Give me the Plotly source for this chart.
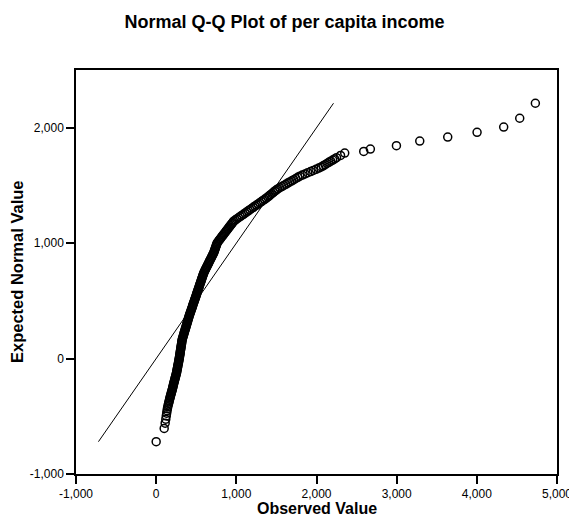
import plotly.graph_objects as go

# Sorted per capita income (observed) and matching expected normal values
observed = [
    # lower tail
    0, 100, 112, 120, 126, 131, 136, 140, 145, 150, 155, 160, 164, 168,
    172, 176, 180, 184, 188, 192, 196, 200, 204, 207, 211, 214, 218, 221,
    # body
    225, 229, 233, 236, 240, 244, 248, 252,
    255, 258, 260, 263, 266, 269, 271, 274, 277, 280, 282, 285, 288,
    290, 292, 295, 297, 299, 301, 303, 306, 308, 310, 312, 315, 317, 319, 321, 323,
    327, 331, 335, 340, 344, 348, 352, 357, 361, 365, 370, 374, 378, 382, 387, 391, 395, 399, 404, 408,
    412, 417, 422, 427, 432, 437, 442, 447, 452, 456, 461, 466, 471, 476, 481, 486, 491, 496, 501, 505,
    510, 515, 520, 525, 530, 535, 539, 544, 549, 554, 559, 564, 568, 573, 578, 583, 588, 593,
    599, 606, 613, 620, 627, 635, 642, 649, 656, 663, 670, 677, 685, 692, 699, 706, 713,
    720, 725, 730, 735, 740, 745, 750, 755, 760,
    769, 780, 791, 802, 813, 824, 835, 846, 857, 868, 879, 890, 901, 912, 923, 934, 945, 956, 967,
    986, 1006, 1027, 1047, 1068, 1088, 1109, 1129, 1149, 1170,
    1190, 1211, 1231, 1251, 1272, 1292, 1313, 1333, 1353, 1374,
    1393, 1410, 1427, 1445, 1462, 1479, 1497,
    1517, 1542, 1567, 1592, 1617, 1642, 1667, 1692, 1717, 1742, 1767, 1792,
    1823, 1857, 1891, 1926, 1960, 1994, 2028,
    2059, 2083, 2107, 2130, 2154, 2178, 2202, 2226, 2250,
    2300, 2352,
    # upper tail
    2589, 2672, 2997, 3288, 3637, 4003, 4335, 4535, 4730,
]

expected = [
    # lower tail
    -720, -605, -560, -525, -497, -473, -452, -434, -418, -403, -389, -376, -364, -352,
    -341, -330, -320, -310, -300, -290, -280, -270, -260, -250, -240, -230, -220, -210,
    # body
    -200, -190, -180, -170, -160, -150, -140, -130,
    -120, -110, -100, -90, -80, -70, -60, -50, -40, -30, -20, -10, 0,
    10, 20, 30, 40, 50, 60, 70, 80, 90, 100, 110, 120, 130, 140, 150, 160,
    170, 180, 190, 200, 210, 220, 230, 240, 250, 260, 270, 280, 290, 300, 310, 320, 330, 340, 350, 360,
    370, 380, 390, 400, 410, 420, 430, 440, 450, 460, 470, 480, 490, 500, 510, 520, 530, 540, 550, 560,
    570, 580, 590, 600, 610, 620, 630, 640, 650, 660, 670, 680, 690, 700, 710, 720, 730, 740,
    750, 760, 770, 780, 790, 800, 810, 820, 830, 840, 850, 860, 870, 880, 890, 900, 910,
    920, 930, 940, 950, 960, 970, 980, 990, 1000,
    1010, 1020, 1030, 1040, 1050, 1060, 1070, 1080, 1090, 1100, 1110, 1120, 1130, 1140, 1150, 1160, 1170, 1180, 1190,
    1200, 1210, 1220, 1230, 1240, 1250, 1260, 1270, 1280, 1290,
    1300, 1310, 1320, 1330, 1340, 1350, 1360, 1370, 1380, 1390,
    1400, 1410, 1420, 1430, 1440, 1450, 1460,
    1470, 1480, 1490, 1500, 1510, 1520, 1530, 1540, 1550, 1560, 1570, 1580,
    1590, 1600, 1610, 1620, 1630, 1640, 1650,
    1660, 1670, 1680, 1690, 1700, 1710, 1720, 1730, 1740,
    1760, 1780,
    # upper tail
    1795, 1815, 1844, 1884, 1919, 1960, 2006, 2082, 2212,
]

x_ticks = [-1000, 0, 1000, 2000, 3000, 4000, 5000]
x_tick_labels = ["-1,000", "0", "1,000", "2,000", "3,000", "4,000", "5,000"]
y_ticks = [-1000, 0, 1000, 2000]
y_tick_labels = ["-1,000", "0", "1,000", "2,000"]

FONT = "Arial, Liberation Sans, sans-serif"

# Reference line y = x across the range of expected values
lo, hi = min(expected), max(expected)

fig = go.Figure()
fig.add_trace(go.Scatter(
    x=[lo, hi], y=[lo, hi], mode="lines",
    line=dict(color="black", width=1), hoverinfo="skip", showlegend=False,
))
fig.add_trace(go.Scatter(
    x=observed, y=expected, mode="markers",
    marker=dict(symbol="circle-open", size=8, color="black", line=dict(width=1.5, color="black")),
    showlegend=False,
))

axis_common = dict(
    showline=True, linecolor="black", linewidth=1.5, mirror=True,
    showgrid=False, zeroline=False,
    ticks="outside", ticklen=8, tickwidth=1.5, tickcolor="black",
    tickfont=dict(family=FONT, size=12, color="black"),
    ticklabeloverflow="allow",
    automargin=False,
)

fig.update_layout(
    width=569, height=520,
    margin=dict(l=76, r=12, t=70, b=46),
    paper_bgcolor="white", plot_bgcolor="white",
    title=dict(
        text="<b>Normal Q-Q Plot of per capita income</b>",
        font=dict(family=FONT, size=18, color="black"),
        x=0.5, xref="container", xanchor="center",
        y=1 - 21.5 / 520, yref="container", yanchor="middle",
    ),
    xaxis=dict(range=[-1000, 5000], tickvals=x_ticks, ticktext=x_tick_labels, **axis_common),
    yaxis=dict(range=[-1000, 2500], tickvals=y_ticks, ticktext=y_tick_labels, **axis_common),
    annotations=[
        dict(text="<b>Observed Value</b>", x=0.5, y=0, xref="paper", yref="paper",
             xanchor="center", yanchor="middle", yshift=-34, showarrow=False,
             font=dict(family=FONT, size=16, color="black")),
        dict(text="<b>Expected Normal Value</b>", x=0, y=0.5, xref="paper", yref="paper",
             xanchor="center", yanchor="middle", xshift=-59, textangle=-90, showarrow=False,
             font=dict(family=FONT, size=16.5, color="black")),
    ],
)

fig.write_html("out.html")
